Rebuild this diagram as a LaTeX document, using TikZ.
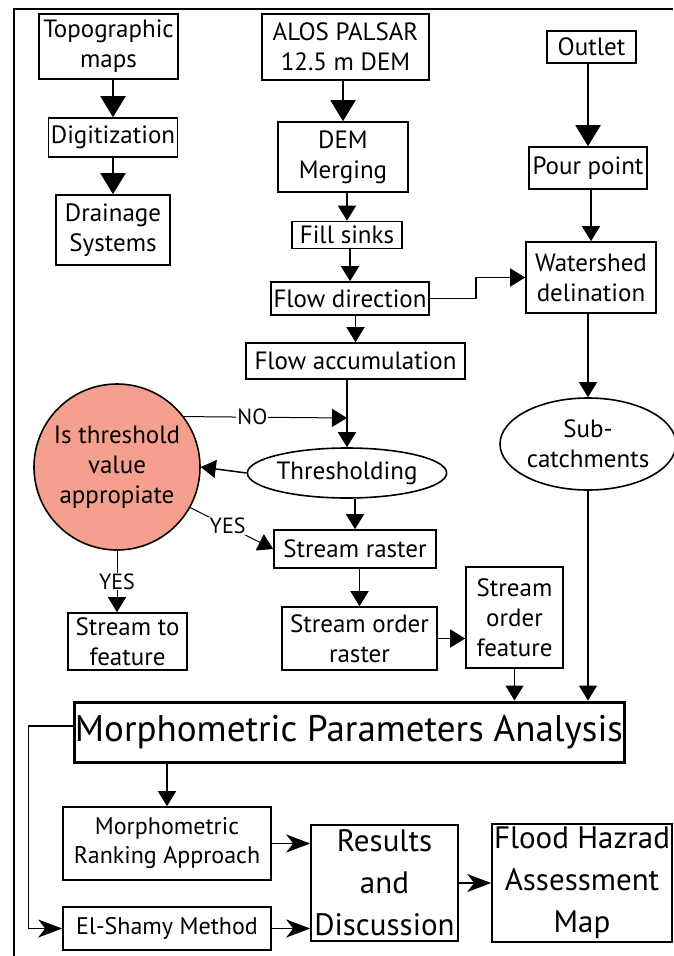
\documentclass[tikz,border=0pt]{standalone}
\usepackage{fontspec}
\setmainfont{PT Sans}
\usetikzlibrary{arrows.meta,shapes.geometric,positioning}
\definecolor{salmon}{RGB}{245,160,142}

\tikzset{
  box/.style={draw, line width=1.6pt, align=center, inner sep=0pt, font=\fontsize{25}{30}\selectfont},
  oval/.style={draw, ellipse, line width=1.6pt, align=center, inner sep=0pt, font=\fontsize{25}{30}\selectfont},
  bigtip/.style={-{Triangle[length=21pt,width=25pt]}, line width=2pt},
  midtip/.style={-{Triangle[length=15pt,width=18pt]}, line width=1.5pt},
  flowtip/.style={-{Stealth[length=24pt,width=18pt,inset=7pt]}, line width=1.5pt},
  lbl/.style={fill=white, inner sep=1pt, font=\fontsize{22}{24}\selectfont}
}

\begin{document}
\begin{tikzpicture}[x=1pt,y=1pt]
  \useasboundingbox (0,0) rectangle (673,-956);

  % Frame (only top and left visible)
  \draw[line width=2.5pt] (673,-9) -- (14,-9) -- (14,-956);

  % Left column
  \node[box, minimum width=139, minimum height=65] (topo) at (108.5,-46.5) {Topographic\\maps};
  \node[box, minimum width=129, minimum height=39] (digit) at (113,-137.5) {Digitization};
  \node[box, minimum width=114, minimum height=70] (drain) at (113,-230) {Drainage\\Systems};

  % Centre column
  \node[box, minimum width=167, minimum height=66] (alos) at (345.5,-47) {ALOS PALSAR\\12.5 m DEM};
  \node[box, minimum width=130, minimum height=70] (merge) at (343,-157) {DEM\\Merging};
  \node[box, minimum width=110, minimum height=27] (fill) at (347,-235) {Fill sinks};
  \node[box, minimum width=158, minimum height=33] (fdir) at (350,-298.5) {Flow direction};
  \node[box, minimum width=219, minimum height=36] (facc) at (355.5,-361) {Flow accumulation};
  \node[oval, minimum width=193, minimum height=50] (thresh) at (347,-473) {Thresholding};
  \node[box, minimum width=162, minimum height=38] (sraster) at (355,-549) {Stream raster};
  \node[box, minimum width=155, minimum height=63] (soraster) at (359.5,-638.5) {Stream order\\raster};
  \node[box, minimum width=97, minimum height=101] (sofeat) at (514.5,-617.5) {Stream\\order\\feature};

  % Right column
  \node[box, minimum width=89, minimum height=32] (outlet) at (591.5,-47) {Outlet};
  \node[box, minimum width=118, minimum height=42] (pour) at (588,-168) {Pour point};
  \node[box, minimum width=130, minimum height=71] (wshed) at (591,-277.5) {Watershed\\delination};
  \node[oval, minimum width=176, minimum height=92] (subc) at (588,-444) {Sub-\\catchments};

  % Decision
  \node[draw, circle, fill=salmon, line width=1.6pt, minimum size=166, inner sep=0pt, align=center,
        font=\fontsize{25}{30}\selectfont] (circ) at (117,-467) {Is threshold\\value\\appropiate};
  \node[box, minimum width=119, minimum height=57] (stfeat) at (127.5,-641.5) {Stream to\\feature};

  % Analysis
  \node[draw, line width=3pt, minimum width=550, minimum height=60, inner sep=0pt,
        font=\fontsize{37}{42}\selectfont] (morph) at (349,-732) {Morphometric Parameters Analysis};
  \node[box, minimum width=208, minimum height=73, font=\fontsize{24}{29}\selectfont] (mrank) at (167,-843.5) {Morphometric\\Ranking Approach};
  \node[box, minimum width=208, minimum height=43, font=\fontsize{24}{29}\selectfont] (elsh) at (167,-928.5) {El-Shamy Method};
  \node[box, minimum width=147, minimum height=116, font=\fontsize{31}{42}\selectfont] (results) at (384.5,-883) {Results\\and\\Discussion};
  \node[box, minimum width=180, minimum height=118, font=\fontsize{31}{42}\selectfont] (flood) at (582,-883) {Flood Hazrad\\Assessment\\Map};

  % Vertical flows
  \foreach \a/\b in {topo/digit, digit/drain, alos/merge, outlet/pour}
      {\draw[bigtip] (\a.south -| \b) -- (\b.north);}
  \foreach \a/\b in {merge/fill, fill/fdir, fdir/facc, pour/wshed, wshed/subc, thresh/sraster, sraster/soraster}
      {\draw[midtip] (\a.south -| \b) -- (\b.north);}
  \draw[midtip] (facc.south -| thresh) -- (thresh.north);
  \draw[midtip] (sofeat.south) -- (sofeat.south |- morph.north);
  \draw[midtip] (subc.south) -- (subc.south |- morph.north);

  % Horizontal flows
  \draw[midtip] (fdir.east) -- ++(46,0) |- (wshed.west);
  \draw[midtip] (soraster.east) -- (soraster.east -| sofeat.west);
  \draw[midtip] (thresh.west) -- (circ.east);

  % Decision flows
  \coordinate (nojoin) at (347,-418);
  \draw[midtip, line width=1pt] (circ.37) -- node[lbl, pos=0.42] {NO} (nojoin);
  \draw[midtip, line width=1pt] (circ.-29) -- node[lbl, pos=0.45] {YES} (sraster.west);
  \draw[midtip, line width=1pt] (circ.south) -- node[lbl] {YES} (circ.south |- stfeat.north);

  % Analysis flows
  \draw[midtip] (morph.south -| mrank) -- (mrank.north);
  \draw[flowtip, line width=1.2pt] ([yshift=6]morph.west) -- ++(-44,0) |- (elsh.west);
  \draw[flowtip] (mrank.east) -- (mrank.east -| results.west);
  \draw[flowtip] (elsh.east) -- (elsh.east -| results.west);
  \draw[flowtip] (results.east) -- (flood.west);
\end{tikzpicture}
\end{document}
